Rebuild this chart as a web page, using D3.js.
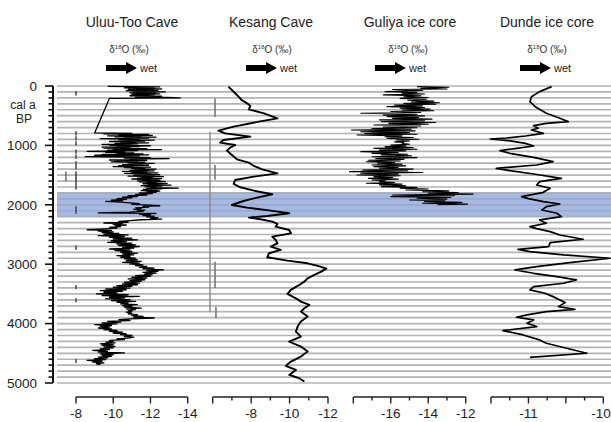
<!DOCTYPE html>
<html><head><meta charset="utf-8">
<script src="https://cdn.jsdelivr.net/npm/d3@7"></script>
<style>body{margin:0;background:#fff}svg{display:block;font-family:"Liberation Sans",Arial,sans-serif}</style>
</head><body><svg id="c" width="611" height="422"></svg>
<script>
// ---------------- DATA ----------------
const titles = ["Uluu-Too Cave", "Kesang Cave", "Guliya ice core", "Dunde ice core"];
const yTicks = [0, 1000, 2000, 3000, 4000, 5000];
const bandYears = [1800, 2200];

// Uluu-Too Cave  [year cal a BP, d18O]
const uluu = [[8,-9.7],[14,-12.5],[20,-10.9],[26,-11.8],[32,-10.6],[38,-12.2],[44,-11.0],[50,-12.6],[56,-10.8],[62,-11.9],[68,-11.2],[74,-12.4],[80,-10.7],[86,-12.0],[92,-11.4],[98,-12.8],[104,-11.1],[110,-12.3],[116,-10.9],[122,-11.7],[128,-11.3],[134,-12.5],[140,-11.0],[146,-12.2],[152,-11.5],[158,-12.0],[164,-10.9],[170,-12.6],[176,-11.4],[182,-12.1],[188,-11.2],[194,-12.9],[200,-13.6],[208,-9.8],
[790,-9.0],[798,-11.0],[806,-9.5],[814,-11.9],[822,-10.3],[830,-12.1],[838,-9.7],[846,-11.5],[854,-10.1],[862,-12.3],[870,-10.6],[878,-11.9],[886,-9.3],[894,-11.4],[902,-10.3],[910,-12.2],[918,-10.8],[926,-11.7],[934,-9.8],[942,-11.2],[950,-10.4],[958,-11.9],[966,-10.1],[974,-11.3],[982,-9.4],[990,-11.0],[998,-9.8],[1006,-12.0],[1014,-10.2],[1022,-11.4],[1030,-9.4],[1038,-10.9],[1046,-9.5],[1054,-11.8],[1062,-10.0],[1070,-12.6],[1078,-9.7],[1086,-11.3],[1094,-9.9],[1102,-8.6],[1110,-10.6],[1118,-9.6],[1126,-11.1],[1134,-10.2],[1142,-11.6],[1150,-9.4],[1158,-11.9],[1166,-9.0],[1174,-11.4],[1182,-10.1],[1190,-8.5],[1198,-10.7],[1206,-12.0],[1214,-10.6],[1222,-13.0],[1230,-10.9],[1238,-11.5],[1246,-9.8],[1254,-11.8],[1262,-10.1],[1270,-11.3],[1278,-9.9],[1286,-11.7],[1294,-10.8],[1302,-12.2],[1310,-10.9],[1318,-11.5],[1326,-10.5],[1334,-11.9],[1342,-10.3],[1350,-11.1],[1358,-10.0],[1366,-12.0],[1374,-10.6],[1382,-11.7],[1390,-11.0],[1398,-12.3],[1406,-11.2],[1414,-11.9],[1422,-10.9],[1430,-12.2],[1438,-10.5],[1446,-11.8],[1454,-11.0],[1462,-12.4],[1470,-10.6],[1478,-12.0],[1486,-11.4],[1494,-12.5],[1502,-11.1],[1510,-12.2],[1518,-10.8],[1526,-12.7],[1534,-11.5],[1542,-12.1],[1550,-11.3],[1558,-12.6],[1566,-11.0],[1574,-12.4],[1582,-11.6],[1590,-12.5],[1598,-11.3],[1606,-12.8],[1614,-11.4],[1622,-12.3],[1630,-11.8],[1638,-12.9],[1646,-11.6],[1654,-12.4],[1662,-11.9],[1670,-13.1],[1678,-11.5],[1686,-12.6],[1694,-11.7],[1702,-12.3],[1710,-12.0],[1718,-13.5],[1726,-11.8],[1734,-12.6],[1742,-11.6],[1750,-12.4],
[1760,-11.5],[1770,-12.5],[1780,-11.8],[1790,-12.3],[1800,-11.4],[1812,-12.1],[1824,-11.2],[1836,-11.8],[1848,-10.8],[1860,-11.3],[1872,-10.5],[1884,-11.0],[1896,-10.2],[1908,-10.7],[1920,-9.9],[1932,-10.5],[1944,-9.6],[1956,-10.4],[1968,-10.9],[1980,-11.4],[1992,-11.0],[2004,-12.0],[2016,-12.5],[2028,-11.6],[2040,-11.9],[2052,-11.2],[2064,-11.5],[2076,-11.1],[2088,-11.7],[2100,-11.3],[2112,-11.6],[2124,-10.9],[2136,-9.2],[2144,-12.3],[2156,-11.4],[2168,-12.0],[2180,-11.6],[2192,-12.2],[2204,-11.8],[2216,-12.4],[2228,-12.0],[2240,-12.6],[2252,-11.5],
[2266,-10.9],[2280,-10.3],[2294,-10.8],[2306,-9.5],[2314,-10.5],[2328,-10.0],[2340,-10.7],[2352,-10.1],[2366,-10.4],[2380,-9.8],[2394,-10.2],[2408,-9.3],[2420,-8.6],[2432,-9.9],[2444,-9.2],[2456,-10.0],[2468,-9.4],[2480,-10.3],[2492,-9.5],[2506,-10.8],[2520,-9.2],[2534,-10.6],[2548,-9.8],[2562,-11.0],[2576,-10.0],[2590,-11.3],[2604,-9.9],[2618,-10.7],[2632,-9.7],[2646,-11.0],[2660,-10.2],[2674,-11.2],[2688,-10.3],[2702,-11.4],[2716,-10.5],[2730,-11.1],[2744,-9.8],[2758,-10.9],[2772,-10.1],[2786,-11.0],[2800,-10.4],[2814,-11.3],[2828,-10.5],[2842,-11.1],[2856,-10.2],[2870,-10.9],[2884,-10.4],[2898,-11.2],[2912,-10.6],[2926,-11.3],[2940,-10.7],[2954,-11.5],[2968,-10.5],[2982,-11.4],[2996,-10.9],[3010,-11.6],[3024,-11.2],[3038,-11.8],[3052,-11.4],[3066,-12.2],[3080,-11.6],[3094,-12.7],[3108,-11.8],[3122,-12.4],[3136,-11.6],[3150,-12.3],[3164,-11.7],[3178,-12.1],[3192,-11.2],[3206,-12.0],[3220,-11.0],[3234,-11.8],[3248,-10.8],[3262,-11.7],[3276,-10.9],[3290,-11.5],[3304,-10.6],[3318,-11.4],[3332,-10.5],[3346,-11.3],[3360,-10.2],[3374,-11.0],[3388,-10.0],[3402,-10.9],[3416,-9.6],[3430,-10.7],[3444,-9.3],[3458,-10.5],[3472,-9.5],[3486,-10.2],[3500,-9.1],[3514,-10.8],[3528,-9.4],[3542,-11.4],[3556,-9.8],[3570,-10.6],[3584,-9.6],[3598,-10.9],[3612,-9.9],[3626,-11.2],[3640,-10.2],[3654,-10.8],[3668,-10.4],[3682,-11.3],[3696,-10.5],[3710,-11.0],[3724,-10.6],[3738,-11.5],[3752,-10.7],[3766,-11.2],[3780,-10.8],[3794,-11.0],[3808,-10.7],[3822,-11.0],[3836,-10.8],[3850,-11.3],[3864,-11.0],[3878,-11.6],[3892,-11.1],[3906,-12.2],[3920,-10.9],[3934,-10.3],[3948,-10.9],[3962,-9.7],[3976,-10.4],[3990,-9.4],[4004,-10.2],[4018,-9.0],[4032,-9.9],[4046,-9.3],[4060,-9.8],[4074,-9.2],[4088,-9.9],[4102,-9.5],[4116,-10.2],[4130,-9.8],[4144,-10.5],[4158,-10.0],[4172,-10.7],[4186,-10.4],[4200,-11.0],[4214,-10.6],[4228,-11.1],[4242,-10.9],[4256,-10.2],[4270,-10.6],[4284,-9.8],[4298,-10.0],[4312,-9.6],[4326,-10.1],[4340,-9.3],[4354,-10.0],[4368,-9.4],[4382,-10.1],[4396,-9.5],[4410,-10.0],[4424,-9.3],[4438,-9.8],[4452,-8.9],[4466,-9.7],[4480,-9.2],[4494,-10.6],[4508,-9.3],[4522,-10.0],[4536,-9.4],[4550,-9.9],[4564,-9.2],[4578,-9.7],[4592,-9.0],[4606,-9.6],[4620,-8.6],[4634,-9.4],[4648,-8.9],[4662,-9.5],[4676,-9.1],[4690,-9.3]];

// Kesang Cave
const kesang = [[11,-6.82],[67,-7.0],[151,-7.26],[236,-7.51],[292,-7.79],[337,-7.96],[393,-7.88],[460,-8.67],[544,-9.37],[600,-8.4],[684,-7.09],[752,-6.3],[797,-6.65],[853,-7.96],[909,-6.56],[954,-6.38],[993,-7.17],[1038,-6.91],[1088,-6.74],[1161,-7.0],[1234,-7.26],[1290,-7.88],[1346,-8.14],[1403,-8.58],[1470,-9.37],[1526,-8.14],[1582,-7.17],[1649,-7.09],[1705,-7.44],[1762,-8.14],[1823,-9.1],[1879,-8.31],[1936,-7.6],[2003,-7.0],[2048,-7.79],[2098,-9.02],[2143,-9.98],[2188,-8.84],[2216,-7.88],[2244,-8.49],[2283,-9.1],[2323,-9.37],[2367,-9.28],[2424,-9.98],[2480,-10.07],[2536,-9.1],[2592,-9.28],[2648,-9.37],[2704,-9.02],[2760,-9.54],[2816,-8.93],[2884,-8.84],[2940,-9.89],[2985,-10.94],[3029,-11.47],[3074,-11.91],[3125,-11.65],[3181,-11.29],[3237,-10.94],[3293,-10.77],[3366,-10.42],[3433,-10.07],[3501,-9.89],[3574,-10.33],[3630,-10.59],[3686,-11.03],[3742,-10.77],[3798,-10.59],[3882,-10.94],[3966,-10.59],[4050,-10.42],[4134,-10.33],[4219,-10.59],[4303,-9.98],[4387,-10.59],[4471,-10.94],[4555,-10.59],[4639,-10.07],[4712,-9.8],[4780,-10.33],[4864,-9.98],[4920,-10.5],[4976,-10.77]];

// Guliya ice core
const guliya = [[10,-14.6],[22,-12.9],[39,-14.4],[50,-13.0],[60,-15.9],[75,-14.3],[95,-16.3],[108,-14.6],[120,-15.4],[135,-14.2],[150,-16.4],[165,-14.4],[180,-15.3],[194,-14.0],[208,-15.5],[224,-14.1],[240,-15.1],[255,-13.7],[270,-14.9],[281,-13.4],[292,-15.3],[306,-13.6],[320,-15.8],[334,-14.3],[348,-16.2],[362,-14.2],[375,-15.5],[390,-13.9],[404,-15.4],[417,-13.7],[430,-16.0],[445,-14.4],[460,-17.6],[475,-14.6],[490,-16.4],[503,-14.2],[516,-16.2],[530,-14.5],[545,-15.9],[558,-13.8],[570,-16.6],[585,-14.2],[600,-16.5],[615,-13.6],[630,-16.1],[643,-14.0],[656,-16.9],[673,-14.4],[690,-16.4],[703,-14.6],[715,-17.0],[728,-14.9],[741,-18.1],[756,-14.7],[770,-17.6],[785,-15.0],[800,-17.4],[812,-14.6],[825,-17.8],[840,-15.4],[855,-16.3],[868,-14.8],[881,-16.2],[896,-14.5],[910,-15.7],[925,-15.0],[940,-15.8],[952,-15.3],[965,-15.4],[980,-15.0],[995,-16.0],[1008,-15.2],[1020,-16.3],[1035,-14.8],[1050,-16.9],[1065,-14.6],[1080,-16.6],[1092,-15.2],[1105,-17.6],[1120,-15.6],[1135,-17.0],[1148,-15.1],[1160,-16.5],[1175,-14.9],[1190,-17.0],[1205,-14.6],[1220,-16.8],[1235,-15.3],[1250,-17.2],[1262,-15.5],[1274,-17.3],[1287,-15.8],[1300,-16.7],[1315,-15.4],[1330,-17.0],[1344,-15.2],[1358,-16.9],[1372,-15.6],[1385,-16.6],[1400,-14.8],[1415,-17.5],[1428,-15.1],[1442,-18.2],[1456,-14.3],[1470,-17.6],[1484,-15.6],[1498,-17.8],[1512,-15.5],[1525,-16.9],[1540,-15.9],[1555,-17.2],[1568,-15.6],[1582,-17.0],[1596,-16.3],[1610,-16.6],[1624,-15.8],[1638,-17.3],[1652,-15.4],[1665,-16.6],[1680,-15.2],[1694,-16.5],[1707,-14.6],[1720,-15.5],[1735,-14.0],[1750,-15.2],[1765,-12.9],[1780,-14.3],[1793,-12.4],[1806,-14.0],[1820,-11.6],[1835,-15.9],[1848,-12.6],[1862,-16.0],[1876,-12.8],[1890,-14.6],[1904,-13.0],[1918,-15.0],[1932,-13.1],[1945,-14.2],[1960,-12.2],[1975,-14.3],[1988,-11.9],[2000,-13.5]];

// Dunde ice core
const dunde = [[11,-10.69],[95,-10.85],[180,-10.96],[264,-10.98],[348,-10.91],[460,-10.76],[544,-10.58],[600,-10.47],[628,-10.76],[668,-10.93],[712,-10.87],[741,-10.96],[797,-10.8],[842,-11.04],[875,-11.29],[892,-11.51],[914,-11.31],[931,-11.2],[965,-11.04],[1010,-10.93],[1049,-11.16],[1088,-11.38],[1133,-11.25],[1201,-10.93],[1274,-10.67],[1330,-10.89],[1386,-11.43],[1425,-11.25],[1481,-10.93],[1554,-10.56],[1610,-10.85],[1666,-10.89],[1722,-10.71],[1790,-10.8],[1863,-11.09],[1896,-11.0],[1947,-10.8],[1986,-10.58],[2031,-10.76],[2087,-10.82],[2143,-10.62],[2199,-10.56],[2255,-10.85],[2311,-10.76],[2367,-10.98],[2401,-10.89],[2451,-10.71],[2508,-10.58],[2580,-10.27],[2637,-10.71],[2704,-10.73],[2749,-11.14],[2788,-10.98],[2844,-10.53],[2900,-9.91],[2973,-10.45],[3041,-10.89],[3097,-11.18],[3153,-10.93],[3209,-10.62],[3265,-10.36],[3321,-10.53],[3377,-10.93],[3433,-10.98],[3489,-10.78],[3546,-10.67],[3602,-10.58],[3647,-10.51],[3714,-10.6],[3759,-10.38],[3798,-10.76],[3854,-11.02],[3893,-11.16],[3938,-10.93],[3994,-11.02],[4050,-10.89],[4118,-11.34],[4191,-11.07],[4275,-10.85],[4331,-10.76],[4415,-10.49],[4499,-10.22],[4570,-10.98]];

// Dating markers
const uluuDates = [123, 797, 881, 965, 1105, 1190, 1302, 1369, 1470, 1526, 1580, 1638, 1706, 2059, 2115, 2720, 3385, 3610, 4630];
const uluuDates2 = [1480, 1560];
const kesangDates = [[210, 520], [1330, 1580], [2960, 3400], [3720, 3910]];
const kesangRange = [770, 3800];

// Axis ticks
const uluuTicks = [-8, -10, -12, -14];
const kesangTicks = [-6, -7, -8, -9, -10, -11, -12];
const kesangLabels = [-8, -10, -12];
const guliyaTicks = [-18, -17, -16, -15, -14, -13, -12];
const guliyaLabels = [-16, -14, -12];
const dundeTicks = [-11.5, -11.25, -11, -10.75, -10.5, -10.25, -10];
const dundeLabels = [-11, -10];

// ---------------- DRAW ----------------
const svg = d3.select("#c");
const W = 611;
const y = d3.scaleLinear().domain([0, 5000]).range([86, 383]);

const panels = [
  {data: uluu, domain: [-8, -14], range: [76, 187.7], ticks: uluuTicks, major: uluuTicks, labels: uluuTicks, lw: 1.3, tx: 132, dx: 129, ax: 106},
  {data: kesang, domain: [-6, -12], range: [212.7, 328], ticks: kesangTicks, major: [-6, -8, -10, -12], labels: kesangLabels, lw: 1.9, tx: 271, dx: 272, ax: 246},
  {data: guliya, domain: [-18, -12], range: [353.3, 465.7], ticks: guliyaTicks, major: [-18, -16, -14, -12], labels: guliyaLabels, lw: 1.1, tx: 410, dx: 408, ax: 375},
  {data: dunde, domain: [-11.5, -10], range: [491, 603.3], ticks: dundeTicks, major: [-11.5, -11, -10.5, -10], labels: dundeLabels, lw: 1.7, tx: 547, dx: 547, ax: 520}
];
panels.forEach(p => p.x = d3.scaleLinear().domain(p.domain).range(p.range));

// grid lines every 100 years
const gridYears = d3.range(0, 5001, 100);
svg.append("g").selectAll("line").data(gridYears).join("line")
  .attr("x1", 57).attr("x2", W)
  .attr("y1", d => y(d)).attr("y2", d => y(d))
  .attr("stroke", "#b3b3b3").attr("stroke-width", 1.7);

// blue band
svg.append("rect").attr("x", 57).attr("width", W - 57)
  .attr("y", y(bandYears[0])).attr("height", y(bandYears[1]) - y(bandYears[0]))
  .attr("fill", "rgb(145,167,216)").attr("fill-opacity", 0.8);

// dating markers
const xU = panels[0].x, xK = panels[1].x;
svg.append("g").selectAll("line").data(uluuDates).join("line")
  .attr("x1", xU(-8)).attr("x2", xU(-8))
  .attr("y1", d => y(d - 35)).attr("y2", d => y(d + 35))
  .attr("stroke", "#444").attr("stroke-width", 1.5);
svg.append("g").selectAll("line").data(uluuDates2).join("line")
  .attr("x1", xU(-7.46)).attr("x2", xU(-7.46))
  .attr("y1", d => y(d - 40)).attr("y2", d => y(d + 40))
  .attr("stroke", "#555").attr("stroke-width", 1.3);
svg.append("g").selectAll("line").data(kesangDates).join("line")
  .attr("x1", (d, i) => xK(i === 3 ? -6.17 : -6.12)).attr("x2", (d, i) => xK(i === 3 ? -6.17 : -6.12))
  .attr("y1", d => y(d[0])).attr("y2", d => y(d[1]))
  .attr("stroke", "#777").attr("stroke-width", 1.6);
svg.append("line")
  .attr("x1", xK(-5.86)).attr("x2", xK(-5.86))
  .attr("y1", y(kesangRange[0])).attr("y2", y(kesangRange[1]))
  .attr("stroke", "#888").attr("stroke-width", 1.4);

// series
panels.forEach(p => {
  const line = d3.line().x(d => p.x(d[1])).y(d => y(d[0]));
  svg.append("path").datum(p.data).attr("d", line)
    .attr("fill", "none").attr("stroke", "#000").attr("stroke-width", p.lw)
    .attr("stroke-linejoin", "round");
});

// left axis
const yAxis = svg.append("g").attr("transform", "translate(53,0)");
yAxis.append("line").attr("x1", 0).attr("x2", 0).attr("y1", y(0)).attr("y2", y(5000))
  .attr("stroke", "#111").attr("stroke-width", 2);
yAxis.selectAll("line.minor").data(gridYears).join("line").attr("class", "minor")
  .attr("x1", d => yTicks.includes(d) ? -8 : -4.5).attr("x2", 0)
  .attr("y1", d => y(d)).attr("y2", d => y(d))
  .attr("stroke", "#111").attr("stroke-width", 1.6);
yAxis.selectAll("text").data(yTicks).join("text")
  .attr("x", -16).attr("y", d => y(d)).attr("dy", "0.35em")
  .attr("text-anchor", "end").attr("font-size", 13.5).attr("fill", "#222")
  .text(d => d);
svg.append("text").attr("x", 23).attr("y", 108.5).attr("text-anchor", "middle")
  .attr("font-size", 12).attr("fill", "#222").text("cal a");
svg.append("text").attr("x", 24).attr("y", 123).attr("text-anchor", "middle")
  .attr("font-size", 12).attr("fill", "#222").text("BP");

// bottom axes
panels.forEach(p => {
  const g = svg.append("g").attr("transform", "translate(0,397)");
  g.append("line").attr("x1", p.range[0]).attr("x2", p.range[1])
    .attr("stroke", "#222").attr("stroke-width", 1.5);
  g.selectAll("line.t").data(p.ticks).join("line").attr("class", "t")
    .attr("x1", d => p.x(d)).attr("x2", d => p.x(d))
    .attr("y1", 0).attr("y2", d => p.major.includes(d) ? 6.5 : 3.5)
    .attr("stroke", "#222").attr("stroke-width", 1.4);
  g.selectAll("text").data(p.labels).join("text")
    .attr("x", d => Math.min(p.x(d), W - 10)).attr("y", 21)
    .attr("text-anchor", "middle").attr("font-size", 13.5).attr("fill", "#222")
    .text(d => String(d));
});

// headers
panels.forEach((p, i) => {
  svg.append("text").attr("x", p.tx).attr("y", 27).attr("text-anchor", "middle")
    .attr("font-size", 14).attr("fill", "#222").text(titles[i]);
  const t = svg.append("text").attr("x", p.dx).attr("y", 53).attr("text-anchor", "middle")
    .attr("font-size", 10).attr("fill", "#333");
  t.append("tspan").text("δ");
  t.append("tspan").attr("font-size", 6).attr("dy", -4).text("18");
  t.append("tspan").attr("dy", 4).text("O (‰)");
  const ax = p.ax, ay = 68;
  svg.append("path")
    .attr("d", `M${ax},${ay - 3}H${ax + 20}V${ay - 6}L${ax + 31},${ay}L${ax + 20},${ay + 6}V${ay + 3}H${ax}Z`)
    .attr("fill", "#000");
  svg.append("text").attr("x", ax + 34).attr("y", ay + 4)
    .attr("font-size", 11).attr("fill", "#222").text("wet");
});
</script></body></html>
